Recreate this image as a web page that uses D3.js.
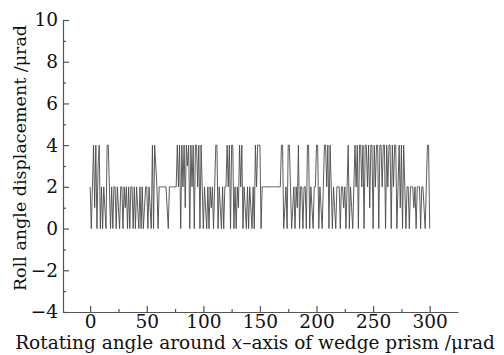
<!DOCTYPE html>
<html>
<head>
<meta charset="utf-8">
<script src="https://cdn.jsdelivr.net/npm/d3@7"></script>
<style>
  body { margin: 0; background: #fff; }
  text { font-family: "DejaVu Serif", serif; fill: #111; }
</style>
</head>
<body>
<script>
svgWidth = 504
svgHeight = 355

// roll angle readings, one per x step (0..300)
var rollValues = [
  2,0,2,4,1,4,0,3,4,0,
  2,0,2,1,0,4,4,2,0,2,
  0,2,2,0,2,1,0,2,2,0,
  2,1,2,0,2,0,2,2,0,2,
  0,2,1,0,2,0,2,0,1,2,
  2,0,2,1,0,4,0,4,3,2,
  0,2,2,2,2,2,2,2,1,0,
  2,2,2,2,2,2,2,4,2,4,
  0,4,2,4,1,4,3,4,0,4,
  2,4,0,4,4,2,4,0,4,2,
  0,2,1,0,2,0,2,1,2,0,
  2,4,4,0,2,1,0,2,0,2,
  2,4,2,4,0,4,4,0,2,0,
  2,1,4,2,4,0,2,1,0,2,
  0,2,1,0,2,0,4,2,4,4,
  4,0,2,2,2,2,2,2,2,2,
  2,2,2,2,2,2,2,2,2,4,
  4,0,1,2,0,4,4,2,0,1,
  2,0,2,1,4,0,2,2,0,2,
  2,0,4,4,0,2,1,0,2,2,
  4,4,0,2,1,0,2,4,4,2,
  4,0,4,2,0,2,1,0,2,2,
  2,0,2,2,1,2,0,2,4,0,
  2,1,0,2,4,2,4,0,4,4,
  2,4,0,4,4,2,4,1,4,4,
  0,4,2,4,4,0,4,4,2,4,
  4,0,4,2,4,4,0,4,2,4,
  4,0,2,4,1,4,0,4,2,0,
  2,2,0,2,2,2,1,2,0,2,
  2,2,0,2,2,1,0,2,4,4,
  0
]
var xTicks = [0, 50, 100, 150, 200, 250, 300]
var xMinor = [25, 75, 125, 175, 225, 275]
var yTicks = [-4, -2, 0, 2, 4, 6, 8, 10]
var yMinor = [-3, -1, 1, 3, 5, 7, 9]

var data = rollValues.map(function(v, i) { return {x: i, y: v} })

var svg = d3.select("body").append("svg")
    .attr("width", svgWidth)
    .attr("height", svgHeight)

xScale = d3.scaleLinear().domain([-24, 325]).range([63, 458])
yScale = d3.scaleLinear().domain([-4, 10]).range([312, 20])

var line = d3.line()
    .x(function(d) { return xScale(d.x) })
    .y(function(d) { return yScale(d.y) })

svg.append("path")
    .datum(data)
    .attr("fill", "none")
    .attr("stroke", "#4a4a4a")
    .attr("stroke-width", 0.9)
    .attr("d", line)

// minor ticks first, no labels
svg.append("g")
    .attr("transform", "translate(0," + yScale(-4) + ")")
    .call(d3.axisBottom(xScale).tickValues(xMinor).tickSize(-3).tickFormat(""))
    .call(function(g) { g.select(".domain").remove() })
svg.append("g")
    .attr("transform", "translate(" + xScale(-24) + ",0)")
    .call(d3.axisLeft(yScale).tickValues(yMinor).tickSize(-3).tickFormat(""))
    .call(function(g) { g.select(".domain").remove() })

var xAxis = svg.append("g")
    .attr("transform", "translate(0," + yScale(-4) + ")")
    .call(d3.axisBottom(xScale).tickValues(xTicks).tickSizeInner(-6).tickSizeOuter(0).tickPadding(3))
var yAxis = svg.append("g")
    .attr("transform", "translate(" + xScale(-24) + ",0)")
    .call(d3.axisLeft(yScale).tickValues(yTicks).tickSizeInner(-6).tickSizeOuter(0).tickPadding(5)
        .tickFormat(function(d) { return d < 0 ? "\u2212" + (-d) : d }))

svg.selectAll(".domain, .tick line")
    .attr("stroke", "#555")
    .attr("stroke-width", 1.2)
svg.selectAll(".tick text")
    .attr("font-family", "DejaVu Serif, serif")
    .attr("font-size", 18.5)
    .attr("fill", "#111")

var xTitle = svg.append("text")
    .attr("x", 255)
    .attr("y", 349)
    .attr("text-anchor", "middle")
    .attr("font-size", 18.5)
xTitle.append("tspan").text("Rotating angle around ")
xTitle.append("tspan").attr("font-style", "italic").text("x")
xTitle.append("tspan").text("\u2013axis of wedge prism /\u03bcrad")

svg.append("text")
    .attr("transform", "translate(26,158) rotate(-90)")
    .attr("text-anchor", "middle")
    .attr("font-size", 17.5)
    .text("Roll angle displacement /\u03bcrad")
</script>
</body>
</html>
